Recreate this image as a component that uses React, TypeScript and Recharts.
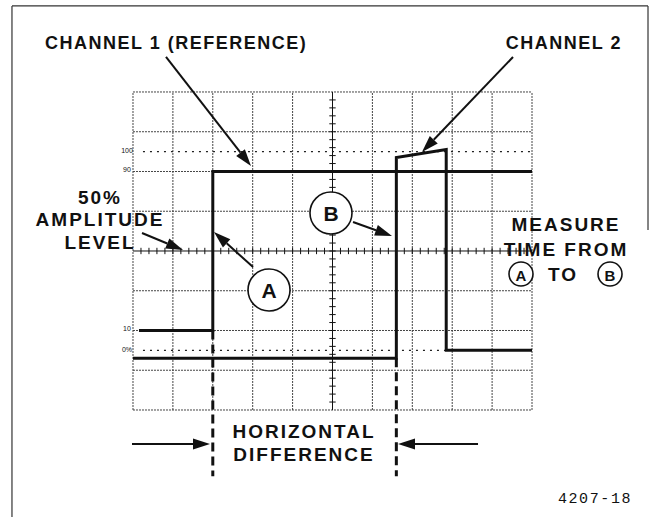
import { LineChart, Line, XAxis, YAxis, ReferenceLine, ReferenceDot, ReferenceArea } from "recharts";

// Units are graticule divisions: 10 across, 8 up. 0% .. 100% spans 1.5 .. 6.5.
const ch1X = [0.15, 2.0, 2.0, 10];
const ch1Y = [2.0, 2.0, 6.0, 6.0];
const ch2X = [0, 6.6, 6.6, 7.85, 7.85, 10];
const ch2Y = [1.3, 1.3, 6.35, 6.55, 1.5, 1.5];

const gridX = [0, 1, 2, 3, 4, 6, 7, 8, 9, 10];
const gridY = [0, 1, 2, 3, 5, 6, 7, 8];
const centerX = 5;
const centerY = 4;
const levelY = [1.5, 6.5];
const levelLabels = ["0%", "10", "90", "100"];
const levelLabelY = [1.53, 2.04, 6.04, 6.54];

// horizontal difference markers (A at channel 1 step, B at channel 2 step)
const markX = [2.0, 6.6];
const markTop = [2.0, 1.3];

const DOMAIN_X = [-3.333, 12.957];
const DOMAIN_Y = [-2.692, 10.314];

const INK = "#111";
const FONT = "'Liberation Sans', Arial, sans-serif";

const ch1 = ch1X.map((x, i) => ({ x, y: ch1Y[i] }));
const ch2 = ch2X.map((x, i) => ({ x, y: ch2Y[i] }));
const minor = Array.from({ length: 51 }, (_, i) => i * 0.2).filter((v) => v > 0 && v < 10);
const minorV = minor.filter((v) => v < 8);

function arrow(p: any) {
  const { x1, y1, x2, y2 } = p;
  const dx = x2 - x1;
  const dy = y2 - y1;
  const len = Math.hypot(dx, dy) || 1;
  const ux = dx / len;
  const uy = dy / len;
  const hl = 17;
  const hw = 5.5;
  const bx = x2 - ux * hl;
  const by = y2 - uy * hl;
  const pts = `${x2},${y2} ${bx - uy * hw},${by + ux * hw} ${bx + uy * hw},${by - ux * hw}`;
  return (
    <g>
      <line x1={x1} y1={y1} x2={bx} y2={by} stroke={INK} strokeWidth={2} />
      <polygon points={pts} fill={INK} />
    </g>
  );
}

const label =
  (text: string, size = 19, anchor = "middle", spacing = 2, family = FONT, weight = 700) =>
  (p: any) =>
    (
      <text
        x={p.cx}
        y={p.cy}
        textAnchor={anchor}
        dominantBaseline="central"
        fontFamily={family}
        fontWeight={weight}
        fontSize={size}
        letterSpacing={spacing}
        fill={INK}
      >
        {text}
      </text>
    );

const circled =
  (text: string, r: number, size: number) =>
  (p: any) =>
    (
      <g>
        <circle cx={p.cx} cy={p.cy} r={r} fill="#fff" stroke={INK} strokeWidth={1.6} />
        <text
          x={p.cx}
          y={p.cy + 1}
          textAnchor="middle"
          dominantBaseline="central"
          fontFamily={FONT}
          fontWeight={700}
          fontSize={size}
          fill={INK}
        >
          {text}
        </text>
      </g>
    );

const seg = (x1: number, y1: number, x2: number, y2: number) => [
  { x: x1, y: y1 },
  { x: x2, y: y2 },
];

export default function App() {
  return (
    <div style={{ position: "absolute", left: 0, top: 0, background: "#fff" }}>
      <LineChart width={650} height={517} margin={{ top: 0, right: 0, bottom: 0, left: 0 }}>
        <XAxis dataKey="x" type="number" domain={DOMAIN_X} allowDataOverflow hide />
        <YAxis type="number" domain={DOMAIN_Y} allowDataOverflow hide />

        {/* frame */}
        <ReferenceLine segment={seg(-3.033, 10.164, 12.907, 10.164)} stroke="#333" strokeWidth={1.2} />
        <ReferenceLine segment={seg(-3.033, -2.69, -3.033, 10.164)} stroke="#333" strokeWidth={1.2} />
        <ReferenceLine segment={seg(12.907, 4.53, 12.907, 10.164)} stroke="#333" strokeWidth={1.2} />

        {/* graticule */}
        {gridX.map((v) => (
          <ReferenceLine key={`gx${v}`} segment={seg(v, 0, v, 8)} stroke="#444" strokeWidth={1} strokeDasharray="2 1" />
        ))}
        {gridY.map((v) => (
          <ReferenceLine key={`gy${v}`} segment={seg(0, v, 10, v)} stroke="#444" strokeWidth={1} strokeDasharray="2 1" />
        ))}
        <ReferenceLine segment={seg(centerX, 0, centerX, 8)} stroke={INK} strokeWidth={1} />
        <ReferenceLine segment={seg(0, centerY, 10, centerY)} stroke={INK} strokeWidth={1} />
        {minorV.map((v) => (
          <ReferenceLine key={`ty${v}`} segment={seg(centerX - 0.08, v, centerX + 0.08, v)} stroke={INK} strokeWidth={1} />
        ))}
        {minor.map((v) => (
          <ReferenceLine key={`tx${v}`} segment={seg(v, centerY - 0.08, v, centerY + 0.08)} stroke={INK} strokeWidth={1} />
        ))}
        {levelY.map((v) => (
          <ReferenceLine key={`lv${v}`} segment={seg(0.25, v, 10, v)} stroke="#222" strokeWidth={1.2} strokeDasharray="2 5" />
        ))}

        {/* white boxes behind the side labels */}
        <ReferenceArea x1={9.12} x2={10.1} y1={2.95} y2={4.99} fill="#fff" fillOpacity={1} stroke="none" />
        <ReferenceArea x1={-0.08} x2={0.877} y1={4.06} y2={5.86} fill="#fff" fillOpacity={1} stroke="none" />

        {/* traces */}
        <Line
          data={ch2}
          dataKey="y"
          type="linear"
          stroke={INK}
          strokeWidth={3}
          strokeLinecap="butt"
          dot={false}
          activeDot={false}
          legendType="none"
          isAnimationActive={false}
        />
        <Line
          data={ch1}
          dataKey="y"
          type="linear"
          stroke={INK}
          strokeWidth={3}
          strokeLinecap="butt"
          dot={false}
          activeDot={false}
          legendType="none"
          isAnimationActive={false}
        />

        {/* horizontal difference markers */}
        {markX.map((v, i) => (
          <ReferenceLine key={`m${v}`} segment={seg(v, markTop[i], v, -1.67)} stroke={INK} strokeWidth={3} strokeDasharray="9 5" />
        ))}

        {/* arrows */}
        <ReferenceLine segment={seg(0.827, 8.881, 2.957, 6.138)} shape={arrow} />
        <ReferenceLine segment={seg(9.524, 8.881, 7.243, 6.491)} shape={arrow} />
        <ReferenceLine segment={seg(0.226, 4.453, 1.253, 4.025)} shape={arrow} />
        <ReferenceLine segment={seg(5.514, 4.73, 6.491, 4.377)} shape={arrow} />
        <ReferenceLine segment={seg(3.008, 3.597, 2.03, 4.478)} shape={arrow} />
        <ReferenceLine segment={seg(-0.025, -0.855, 1.93, -0.855)} shape={arrow} />
        <ReferenceLine segment={seg(8.647, -0.855, 6.642, -0.855)} shape={arrow} />

        {/* circled points */}
        <ReferenceDot x={4.962} y={4.956} r={21} shape={circled("B", 21, 21)} />
        <ReferenceDot x={3.409} y={3.019} r={21} shape={circled("A", 21, 21)} />
        <ReferenceDot x={9.724} y={3.421} r={12} shape={circled("A", 12, 15)} />
        <ReferenceDot x={11.955} y={3.421} r={12} shape={circled("B", 12, 15)} />

        {/* text */}
        <ReferenceDot x={-2.206} y={9.233} r={0} shape={label("CHANNEL 1 (REFERENCE)", 18, "start", 1.5)} />
        <ReferenceDot x={12.256} y={9.233} r={0} shape={label("CHANNEL 2", 18, "end", 1.5)} />
        <ReferenceDot x={-0.827} y={5.346} r={0} shape={label("50%")} />
        <ReferenceDot x={-0.827} y={4.78} r={0} shape={label("AMPLITUDE")} />
        <ReferenceDot x={-0.827} y={4.214} r={0} shape={label("LEVEL")} />
        <ReferenceDot x={10.852} y={4.654} r={0} shape={label("MEASURE")} />
        <ReferenceDot x={10.852} y={4.025} r={0} shape={label("TIME FROM")} />
        <ReferenceDot x={10.777} y={3.421} r={0} shape={label("TO")} />
        <ReferenceDot x={4.286} y={-0.553} r={0} shape={label("HORIZONTAL")} />
        <ReferenceDot x={4.286} y={-1.132} r={0} shape={label("DIFFERENCE")} />
        <ReferenceDot x={11.579} y={-2.264} r={0} shape={label("4207-18", 15, "middle", 1.6, "'Liberation Mono', monospace", 400)} />
        {levelLabels.map((t, i) => (
          <ReferenceDot key={t} x={-0.15} y={levelLabelY[i]} r={0} shape={label(t, 7, "middle", 0, FONT, 400)} />
        ))}
      </LineChart>
    </div>
  );
}
